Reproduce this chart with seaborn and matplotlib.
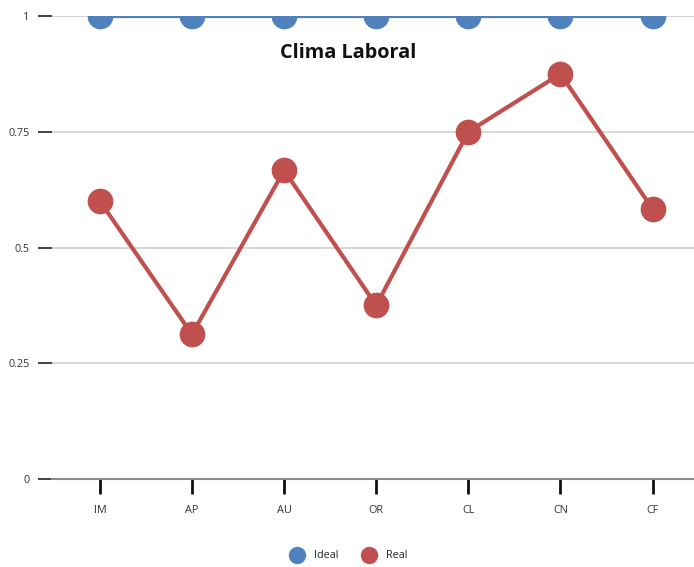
import matplotlib
matplotlib.use("Agg")
import matplotlib.pyplot as plt
import seaborn as sns
import pandas as pd
from matplotlib.lines import Line2D

categories = ["IM", "AP", "AU", "OR", "CL", "CN", "CF"]
ideal = [1, 1, 1, 1, 1, 1, 1]
real = [0.6, 0.3125, 0.6667, 0.375, 0.75, 0.875, 0.5833]
y_ticks = [0, 0.25, 0.5, 0.75, 1]
y_tick_labels = ["0", "0.25", "0.5", "0.75", "1"]

df = pd.DataFrame({
    "cat": categories * 2,
    "value": ideal + real,
    "series": ["Ideal"] * len(categories) + ["Real"] * len(categories),
})

sns.set_theme(style="white")
plt.rcParams["font.family"] = ["Open Sans", "DejaVu Sans"]

fig = plt.figure(figsize=(6.94, 5.67), dpi=100)
ax = fig.add_axes([52 / 694, (567 - 479) / 567, 1 - 52 / 694, (479 - 16) / 567])

palette = {"Ideal": "#4F81BD", "Real": "#C0504D"}
sns.lineplot(data=df, x="cat", y="value", hue="series", palette=palette,
             marker="o", markersize=18.5, markeredgewidth=0, linewidth=3,
             sort=False, ax=ax, legend=False)
# markers on the top line are cut off by the plot area
for line in ax.lines:
    line.set_clip_on(True)
    line.set_clip_box(ax.bbox)

ax.set_ylim(0, 1)
ax.set_xlim(-0.52, 6.45)
ax.set_yticks(y_ticks)
ax.set_yticklabels(y_tick_labels)
ax.set_xlabel("")
ax.set_ylabel("")

for y in y_ticks[1:]:
    ax.axhline(y, color="#d0d0d0", linewidth=1.2, zorder=0)

for side in ["left", "right", "top"]:
    ax.spines[side].set_visible(False)
ax.spines["bottom"].set_color("#8a8a8a")
ax.spines["bottom"].set_linewidth(1.5)

ax.tick_params(axis="y", length=10, width=1.2, color="#222222", direction="out",
               labelsize=7.8, labelcolor="#333333", pad=6, left=True)
ax.tick_params(axis="x", length=11, width=2, color="#111111", direction="out",
               labelsize=7.8, labelcolor="#333333", pad=8, bottom=True)

fig.text(0.5 * (52 / 694 + 1) - 0.036, 1 - 53 / 567, "Clima Laboral", ha="center", va="center",
         fontsize=14.3, fontweight="bold", color="#111111")

# legend along the bottom
handles = [Line2D([], [], marker="o", linestyle="", markersize=12.5,
                  markerfacecolor=palette[s], markeredgewidth=0) for s in ["Ideal", "Real"]]
fig.legend(handles, ["Ideal", "Real"], loc="center", bbox_to_anchor=(0.5, 1 - 556 / 567),
           ncol=2, frameon=False, fontsize=7.8, handletextpad=0.6, columnspacing=1.8)

fig.savefig("out.png", dpi=100)
